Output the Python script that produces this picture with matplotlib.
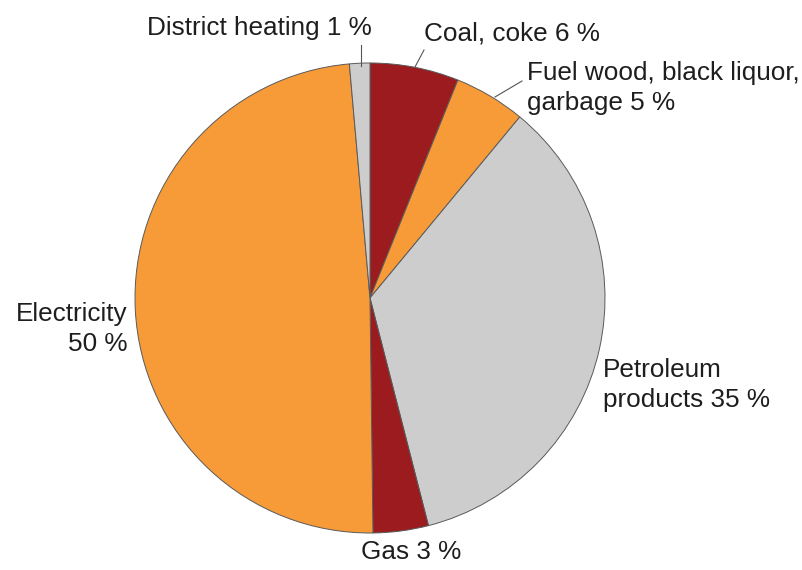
import matplotlib
matplotlib.use('Agg')
import matplotlib.pyplot as plt

# Slices clockwise from 12 o'clock
categories = ['Coal, coke', 'Fuel wood, black liquor, garbage', 'Petroleum products',
              'Gas', 'Electricity', 'District heating']
shares = [6.1, 4.9, 35.0, 3.8, 48.8, 1.4]
labels = ['Coal, coke 6 %', 'Fuel wood, black liquor,\ngarbage 5 %', 'Petroleum\nproducts 35 %',
          'Gas 3 %', 'Electricity\n50 %', 'District heating 1 %']
colors = ['#9B1B1E', '#F79A38', '#CDCDCD', '#9B1B1E', '#F79A38', '#CDCDCD']

plt.rcParams['font.family'] = ['Liberation Sans', 'DejaVu Sans']

W, H = 803, 570
fig = plt.figure(figsize=(W / 100, H / 100), dpi=100)

# pie centre (370, 298) px, radius 235 px
cx, cy, r = 370, 298, 235
ax = fig.add_axes([(cx - r) / W, (H - cy - r) / H, 2 * r / W, 2 * r / H])
ax.pie(shares, colors=colors, startangle=90, counterclock=False, radius=1,
       wedgeprops=dict(edgecolor='#5a5a5a', linewidth=0.7))
ax.set_xlim(-1, 1)
ax.set_ylim(-1, 1)
ax.set_aspect('equal')
ax.axis('off')


def d(px, py):
    # pixel position -> data coords
    return (px - cx) / r, (cy - py) / r


txt = dict(fontsize=18.8, color='#1e1e1e', linespacing=1.32)
line = dict(color='#555555', linewidth=0.8)

# label text positions and leader lines
ax.text(*d(147, 28), labels[5], ha='left', va='center', **txt)
ax.plot(*zip(d(361, 45), d(361, 66)), **line, clip_on=False)

ax.text(*d(424, 34), labels[0], ha='left', va='center', **txt)
ax.plot(*zip(d(424, 50), d(415, 67)), **line, clip_on=False)

ax.text(*d(527, 88), labels[1], ha='left', va='center', **txt)
ax.plot(*zip(d(522, 81), d(495, 97)), **line, clip_on=False)

ax.text(*d(603, 385), labels[2], ha='left', va='center', **txt)
ax.text(*d(411, 552), labels[3], ha='center', va='center', **txt)
ax.text(*d(128, 329), labels[4], ha='right', va='center', multialignment='right', **txt)

fig.savefig('out.png', dpi=100, facecolor='white')
